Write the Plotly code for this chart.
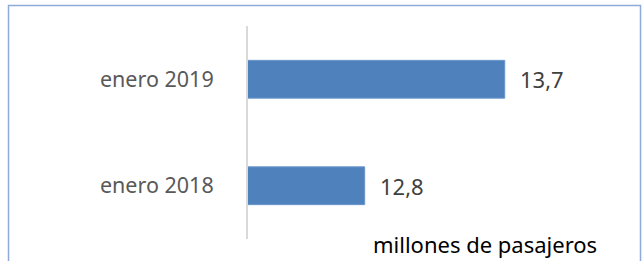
import plotly.graph_objects as go

categories = ["enero 2018", "enero 2019"]
values = [12.8, 13.7]
value_labels = ["12,8", "13,7"]
unit_label = "millones de pasajeros"

W, H = 644, 261
L, R, T, B = 248, 24, 26, 22
pw, ph = W - L - R, H - T - B
FONT = "Noto Sans, Open Sans, sans-serif"

fig = go.Figure()
fig.add_trace(go.Bar(
    y=categories, x=values, orientation="h",
    marker=dict(color="#4f81bd", line=dict(color="#6a96cc", width=1)),
    width=0.355, hoverinfo="skip",
))

for c, v, lab in zip(categories, values, value_labels):
    fig.add_annotation(x=v, y=c, xref="x", yref="y", text=lab, showarrow=False,
                       xanchor="left", yanchor="middle", xshift=13,
                       font=dict(family=FONT, size=22, color="#404040"))


def px_x(p):
    return (p - L) / pw


def px_y(p):
    return (H - B - p) / ph


fig.add_annotation(x=px_x(599), y=px_y(244), xref="paper", yref="paper",
                   text=unit_label, showarrow=False, xanchor="right", yanchor="middle",
                   font=dict(family=FONT, size=22, color="#000000"))

# chart frame (border around chart area)
fig.add_shape(type="path", xref="paper", yref="paper",
              path=f"M {px_x(8.5)} {px_y(262)} L {px_x(8.5)} {px_y(5.5)} L {px_x(640.5)} {px_y(5.5)} L {px_x(640.5)} {px_y(262)}",
              line=dict(color="#8eaadb", width=1.5))

fig.update_layout(
    width=W, height=H,
    margin=dict(l=L, r=R, t=T, b=B),
    plot_bgcolor="white", paper_bgcolor="white",
    showlegend=False,
    xaxis=dict(range=[12.05, 12.05 + pw / 155.6], showgrid=False, zeroline=False,
               showticklabels=False, showline=False, ticks=""),
    yaxis=dict(showgrid=False, zeroline=False, showline=True, linecolor="#d9d9d9", linewidth=2,
               ticks="", ticklabelstandoff=28,
               tickfont=dict(family=FONT, size=21.5, color="#595959")),
)

fig.write_html(
    "out.html",
    config={"displayModeBar": False, "staticPlot": True},
    post_script="document.body.style.margin='0';document.body.style.overflow='hidden';"
                "document.documentElement.style.overflow='hidden';",
)
